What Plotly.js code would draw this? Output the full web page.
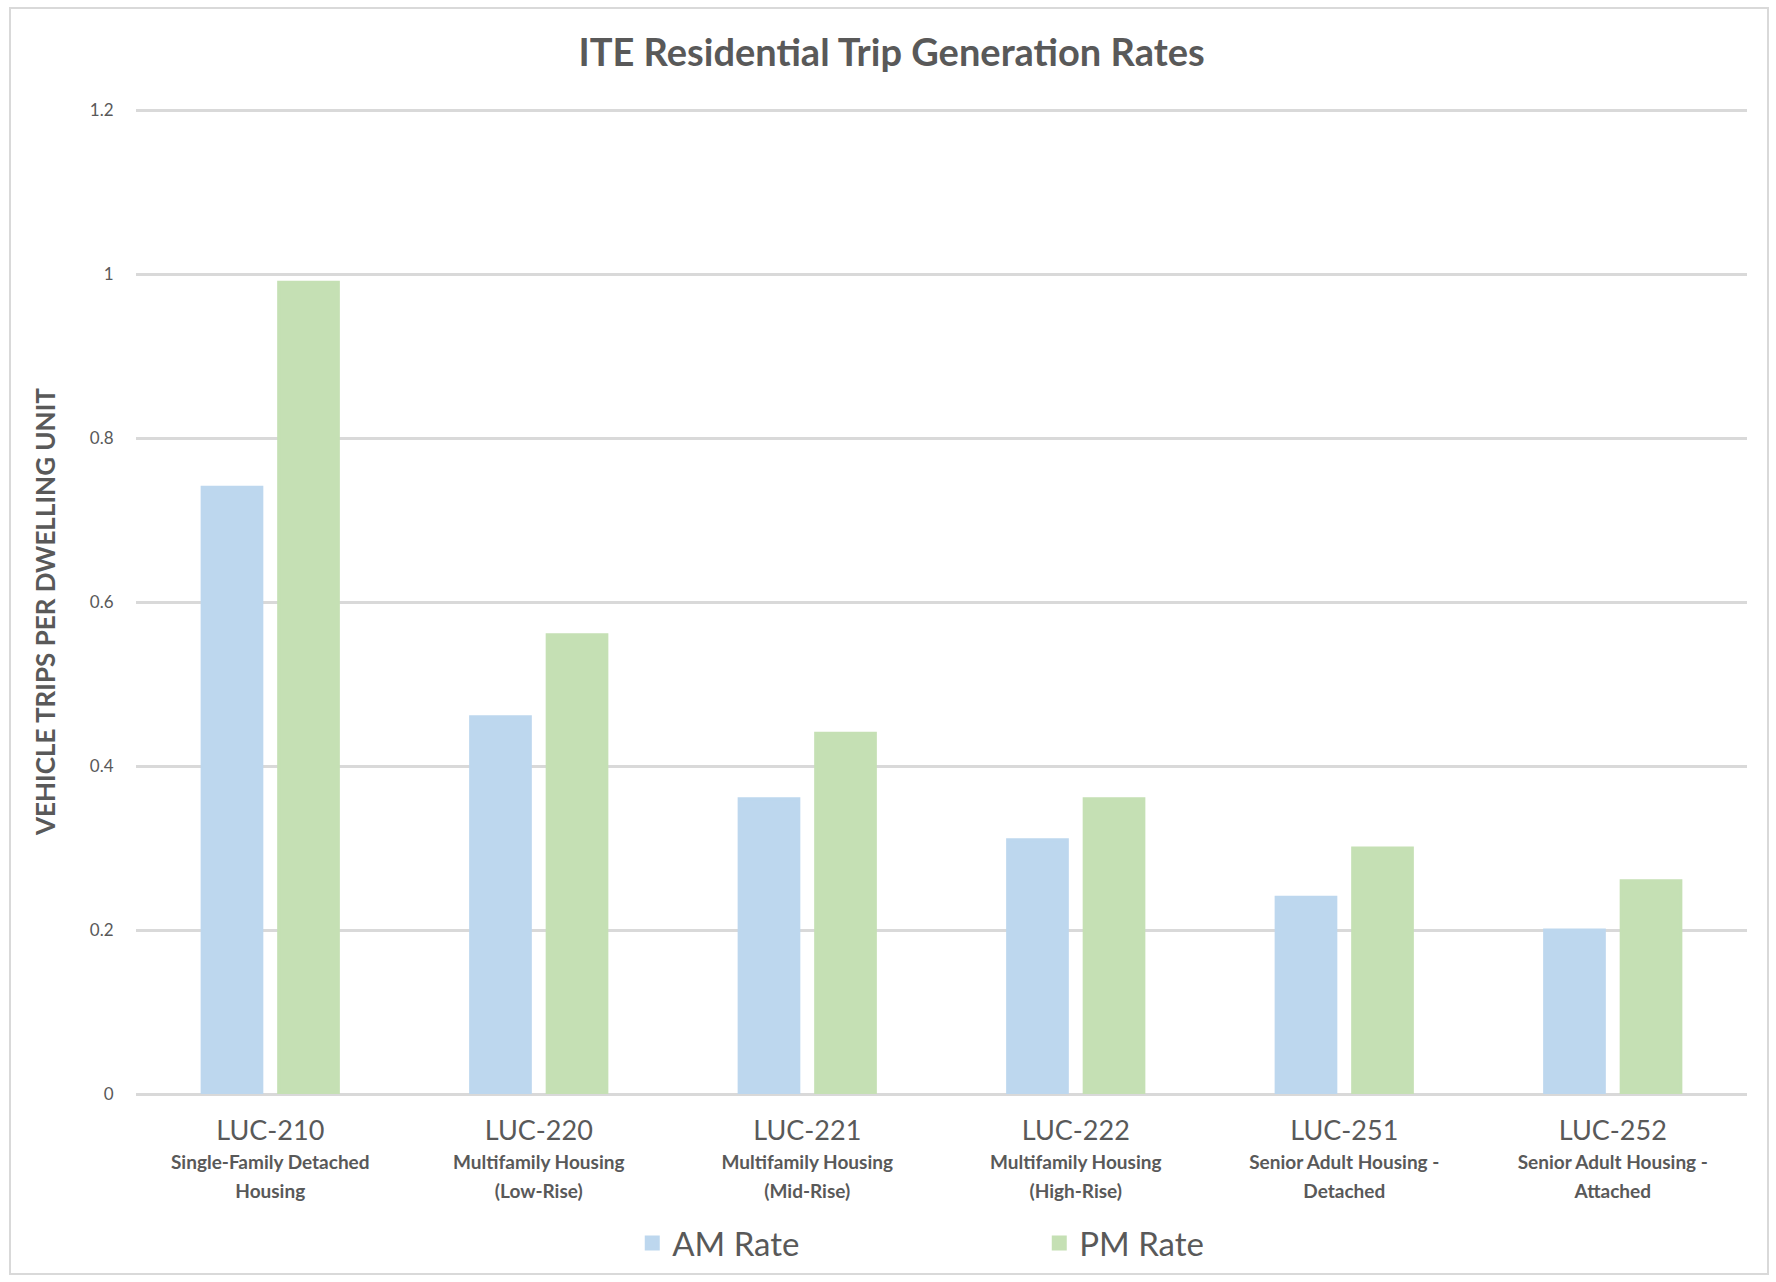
<!DOCTYPE html>
<html>
<head>
<meta charset="utf-8">
<script src="https://cdn.plot.ly/plotly-3.0.1.min.js"></script>
<style>
  html, body { margin: 0; padding: 0; background: #fff; }
  #wrap { position: relative; width: 1776px; height: 1282px; }
  #chart { position: absolute; left: 0; top: 0; width: 1776px; height: 1282px; }
  #frame { position: absolute; left: 9px; top: 7px; width: 1760px; height: 1268px; border: 2px solid #d9d9d9; box-sizing: border-box; pointer-events: none; }
</style>
</head>
<body>
<div id="wrap">
  <div id="chart"></div>
  <div id="frame"></div>
</div>
<script>
const codes = ["LUC-210", "LUC-220", "LUC-221", "LUC-222", "LUC-251", "LUC-252"];
const descriptions = [
  "Single-Family Detached<br>Housing",
  "Multifamily Housing<br>(Low-Rise)",
  "Multifamily Housing<br>(Mid-Rise)",
  "Multifamily Housing<br>(High-Rise)",
  "Senior Adult Housing -<br>Detached",
  "Senior Adult Housing -<br>Attached"
];
const amRate = [0.74, 0.46, 0.36, 0.31, 0.24, 0.20];
const pmRate = [0.99, 0.56, 0.44, 0.36, 0.30, 0.26];
const yTicks = [0, 0.2, 0.4, 0.6, 0.8, 1, 1.2];
const yTickLabels = ["0", "0.2", "0.4", "0.6", "0.8", "1", "1.2"];

const tickText = codes.map((c, i) =>
  "<span style='font-size:27px'>" + c + "</span><br><b><span style='font-size:19px'>" +
  descriptions[i] + "</span></b>");

const FONT = "Lato, 'Open Sans', sans-serif";
const GREY = "#595959";

const traces = [
  { type: "bar", name: "AM Rate", x: codes, y: amRate,
    marker: { color: "#BDD7EE", line: { color: "#BDD7EE", width: 3 } }, hoverinfo: "x+y" },
  { type: "bar", name: "PM Rate", x: codes, y: pmRate,
    marker: { color: "#C5E0B4", line: { color: "#C5E0B4", width: 3 } }, hoverinfo: "x+y" }
];

const layout = {
  width: 1776, height: 1282,
  paper_bgcolor: "#ffffff", plot_bgcolor: "#ffffff",
  margin: { l: 136, r: 29, t: 106, b: 188 },
  barmode: "group",
  bargap: 0.43,
  bargroupgap: 0.22,
  font: { family: FONT, color: GREY },
  title: {
    text: "<b>ITE Residential Trip Generation Rates</b>",
    font: { family: FONT, size: 38, color: GREY },
    xref: "container", x: 0.502, xanchor: "center",
    yref: "container", y: 1 - 53 / 1282, yanchor: "middle"
  },
  xaxis: {
    type: "category",
    tickvals: codes, ticktext: tickText,
    tickfont: { family: FONT, size: 22, color: GREY },
    ticks: "outside", ticklen: 19, tickcolor: "rgba(0,0,0,0)",
    showgrid: false, showline: false, zeroline: false,
    automargin: false
  },
  yaxis: {
    range: [0, 1.205],
    tickvals: yTicks, ticktext: yTickLabels,
    tickfont: { family: FONT, size: 17, color: GREY },
    ticks: "outside", ticklen: 18, tickcolor: "rgba(0,0,0,0)",
    showgrid: true, gridcolor: "#D9D9D9", gridwidth: 3,
    zeroline: true, zerolinecolor: "#D9D9D9", zerolinewidth: 3,
    showline: false, automargin: false
  },
  annotations: [{
    text: "<b>VEHICLE TRIPS PER DWELLING UNIT</b>",
    font: { family: FONT, size: 26, color: GREY },
    textangle: -90, showarrow: false,
    xref: "paper", x: (45 - 136) / 1611, xanchor: "center",
    yref: "paper", y: (1094 - 612) / 988, yanchor: "middle"
  }],
  showlegend: true,
  legend: {
    orientation: "h",
    xref: "container", x: 0.356, xanchor: "left",
    yref: "container", y: 1 - 1243 / 1282, yanchor: "middle",
    font: { family: FONT, size: 33, color: GREY },
    entrywidth: 362, entrywidthmode: "pixels",
    itemclick: false, itemdoubleclick: false
  }
};

Plotly.newPlot("chart", traces, layout, { displayModeBar: false, staticPlot: true });
</script>
</body>
</html>
